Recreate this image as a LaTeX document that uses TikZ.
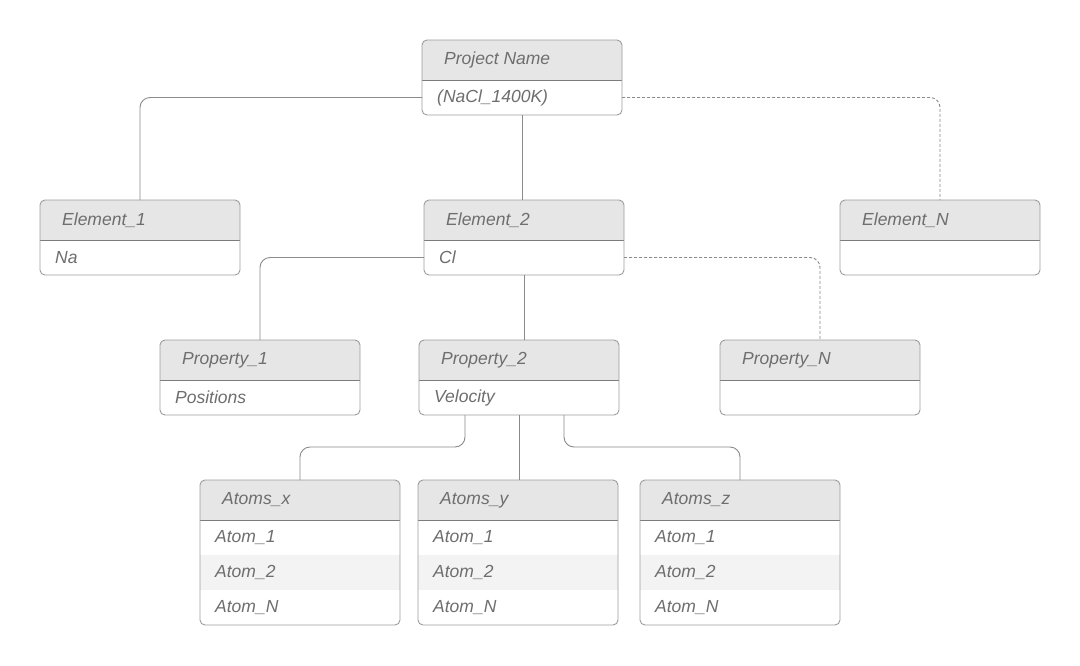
\documentclass[tikz,border=0pt]{standalone}
\usepackage{fontspec}
\setmainfont{Liberation Sans}
\definecolor{framecol}{HTML}{9C9C9C}
\definecolor{divcol}{HTML}{7C7C7C}
\definecolor{hdrcol}{HTML}{E6E6E6}
\definecolor{rowcol}{HTML}{F3F3F3}
\definecolor{txtcol}{HTML}{6E6E6E}
\definecolor{conncol}{HTML}{8A8A8A}
\tikzset{
  tblframe/.style={draw=framecol, line width=0.9pt, rounded corners=5pt,
    minimum width=200pt, inner sep=0pt, outer sep=0pt, fill=none},
  hdrfill/.style={fill=hdrcol},
  rowfill/.style={fill=rowcol},
  divline/.style={draw=divcol, line width=0.9pt},
  celltext/.style={anchor=west, inner sep=0pt, text=txtcol,
    font=\fontsize{17.5}{20}\selectfont\itshape},
  conn/.style={draw=conncol, line width=0.9pt, rounded corners=10pt},
  dashconn/.style={conn, dash pattern=on 3pt off 2pt},
}
% #1 name, #2 left, #3 top, #4 header, #5 number of rows, #6 rows
\newcommand\tbl[6]{%
  \begin{scope}[shift={(#2,#3)}]
    \fill[hdrfill] (0,40) [rounded corners=5pt] -- (0,0) -- (200,0)
      [sharp corners] -- (200,40) -- cycle;
    \ifnum#5>2 \fill[rowfill] (0,75) rectangle (200,110);\fi
    \draw[divline] (0,40) -- (200,40);
    \node[tblframe, minimum height={40+35*#5}, anchor=north west] (#1) at (0,0) {};
    \node[celltext] (#1-h) at (22,20) {#4};
    \foreach \r [count=\i] in {#6} {
      \node[celltext] (#1-\i) at (15,{22.5+35*(\i-1)+35}) {\r};
      \coordinate (#1-r\i-w) at (0,{22.5+35*\i});
      \coordinate (#1-r\i-e) at (200,{22.5+35*\i});
    }
  \end{scope}}
\begin{document}
\begin{tikzpicture}[x=1pt, y=-1pt]
  \useasboundingbox[fill=white] (0,0) rectangle (1080,665);

  % tables
  \tbl{proj}{422}{40}{Project Name}{1}{(NaCl\_1400K)}
  \tbl{el1}{40}{200}{Element\_1}{1}{Na}
  \tbl{el2}{424}{200}{Element\_2}{1}{Cl}
  \tbl{elN}{840}{200}{Element\_N}{1}{{}}
  \tbl{pr1}{160}{340}{Property\_1}{1}{Positions}
  \tbl{pr2}{419}{340}{Property\_2}{1}{Velocity}
  \tbl{prN}{720}{340}{Property\_N}{1}{{}}
  \tbl{ax}{200}{480}{Atoms\_x}{3}{Atom\_1,Atom\_2,Atom\_N}
  \tbl{ay}{418}{480}{Atoms\_y}{3}{Atom\_1,Atom\_2,Atom\_N}
  \tbl{az}{640}{480}{Atoms\_z}{3}{Atom\_1,Atom\_2,Atom\_N}

  % project -> elements
  \draw[conn] (proj-r1-w) -| (el1.north);
  \draw[conn] (proj.south) -- (proj.south |- el2.north);
  \draw[dashconn] (proj-r1-e) -| (elN.north);

  % element -> properties
  \draw[conn] (el2-r1-w) -| (pr1.north);
  \draw[conn] (el2.south) -- (el2.south |- pr2.north);
  \draw[dashconn] (el2-r1-e) -| (prN.north);

  % property -> atom tables
  \draw[conn] ([xshift=-54pt]pr2.south) -- ++(0,32) -| (ax.north);
  \draw[conn] (pr2.south) -- (pr2.south |- ay.north);
  \draw[conn] ([xshift=45pt]pr2.south) -- ++(0,32) -| (az.north);
\end{tikzpicture}
\end{document}
